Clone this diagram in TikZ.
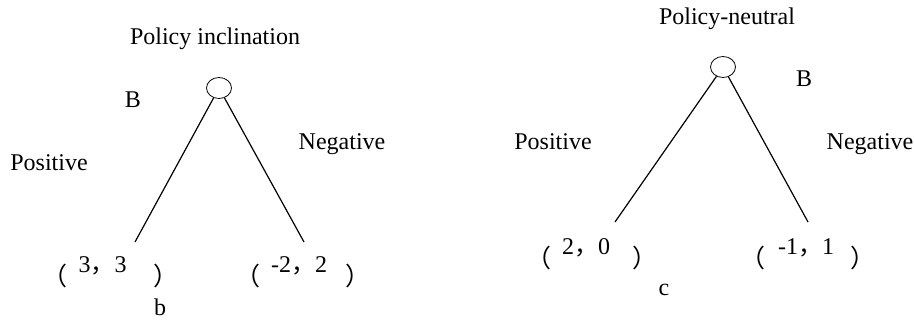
\documentclass[tikz,border=0pt]{standalone}
\usepackage{fontspec}
\setmainfont{Liberation Serif}
\newfontfamily\cjk{Noto Sans CJK SC}
\usetikzlibrary{shapes.geometric}
\newcommand{\brk}[1]{\raisebox{-6.5pt}{\fontsize{12.5}{12.5}\selectfont\cjk #1}}
\newcommand{\payoff}[4]{\brk{（}\hspace{#1}#2{\cjk ，}#3\hspace{#4}\brk{）}}

\begin{document}
\begin{tikzpicture}[x=0.5pt, y=-0.5pt, font=\fontsize{12}{14}\selectfont,
  lbl/.style={anchor=base, inner sep=0pt},
  chance/.style={draw, ellipse, minimum width=12.5pt, minimum height=10.5pt, inner sep=0pt},
  branch/.style={line width=0.6pt}]
  \useasboundingbox (0,0) rectangle (914,320);
  % policy inclination
  \node[lbl] (titleL) at (215,45) {Policy inclination};
  \node[chance] (rootL) at (219,88) {};
  \node[lbl] (bL) at (133,108) {B};
  \node[lbl] (posL) at (49,170) {Positive};
  \node[lbl] (negL) at (342,150) {Negative};
  \coordinate (endLa) at (135,242);
  \coordinate (endLb) at (304,242);
  \node[lbl] (payLa) at (110.5,272) {\payoff{5.5pt}{3}{3}{13.5pt}};
  \node[lbl] (payLb) at (302.5,272) {\payoff{5.5pt}{-2}{2}{9pt}};
  \node[lbl] (capb) at (160,315) {b};
  \draw[branch] (rootL) -- (endLa);
  \draw[branch] (rootL) -- (endLb);
  % policy-neutral
  \node[lbl] (titleR) at (727,25) {Policy-neutral};
  \node[chance] (rootR) at (723,67) {};
  \node[lbl] (bR) at (804,87) {B};
  \node[lbl] (posR) at (553,150) {Positive};
  \node[lbl] (negR) at (870,150) {Negative};
  \coordinate (endRa) at (615,222);
  \coordinate (endRb) at (808,222);
  \node[lbl] (payRa) at (591.5,254) {\payoff{5.5pt}{2}{0}{11pt}};
  \node[lbl] (payRb) at (807.5,254) {\payoff{6.5pt}{-1}{1}{8pt}};
  \node[lbl] (capc) at (664,295) {c};
  \draw[branch] (rootR) -- (endRa);
  \draw[branch] (rootR) -- (endRb);
\end{tikzpicture}
\end{document}
